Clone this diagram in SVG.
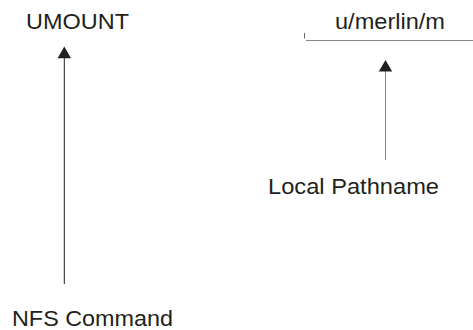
<svg xmlns="http://www.w3.org/2000/svg" width="473" height="330" viewBox="0 0 473 330">
<style>
text{font-family:"Liberation Sans",Arial,sans-serif;font-size:22px;fill:#231f20}
</style>
<rect width="473" height="330" fill="#fff"/>
<g id="umount"><text x="26" y="29" textLength="103" lengthAdjust="spacingAndGlyphs">UMOUNT</text></g>
<g id="path"><text x="335" y="29" textLength="110" lengthAdjust="spacingAndGlyphs">u/merlin/m</text>
<line x1="306" y1="40.5" x2="473" y2="40.5" stroke="#888" stroke-width="1.2"/>
<line x1="304.5" y1="33" x2="304.5" y2="38.5" stroke="#444" stroke-width="0.8"/></g>
<g id="local"><text x="268" y="194" textLength="171" lengthAdjust="spacingAndGlyphs">Local Pathname</text></g>
<g id="nfs"><text x="12" y="326" textLength="161" lengthAdjust="spacingAndGlyphs">NFS Command</text></g>
<g id="connectors">
<line x1="64.3" y1="57" x2="64.3" y2="284" stroke="#231f20" stroke-width="1"/>
<polygon points="64.3,46.5 57.6,58.3 71,58.3" fill="#231f20"/>
<line x1="385.5" y1="70" x2="385.5" y2="160" stroke="#888" stroke-width="1"/>
<polygon points="385.5,60 378.8,71.5 392.2,71.5" fill="#231f20"/>
</g>
</svg>
